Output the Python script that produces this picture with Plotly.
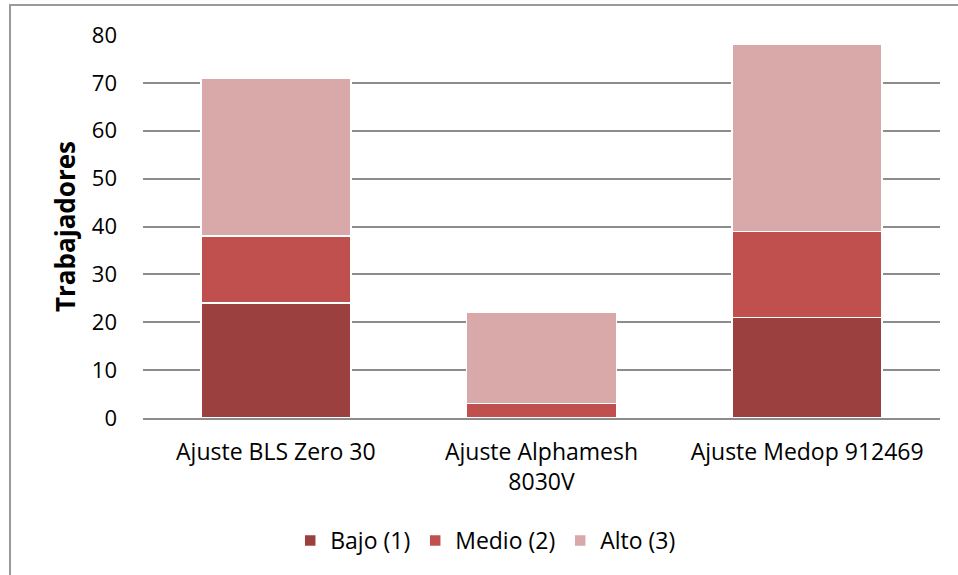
import plotly.graph_objects as go

categories = ["Ajuste BLS Zero 30", "Ajuste Alphamesh<br>8030V", "Ajuste Medop 912469"]
bajo = [24, 0, 21]
medio = [14, 3, 18]
alto = [33, 19, 39]
series_names = ["Bajo (1)", "Medio (2)", "Alto (3)"]
colors = ["#9C3F3F", "#C0504D", "#D9A9A9"]

fig = go.Figure()
for name, vals, col in zip(series_names, [bajo, medio, alto], colors):
    fig.add_trace(go.Bar(
        x=categories, y=vals, name=name,
        marker=dict(color=col, line=dict(color="white", width=1.5)),
        width=0.565,
    ))

fig.update_layout(
    barmode="stack",
    width=958, height=575,
    margin=dict(l=143, r=18, t=35, b=157),
    paper_bgcolor="white", plot_bgcolor="white",
    font=dict(family="Open Sans, sans-serif", size=22, color="black"),
    showlegend=True,
    legend=dict(orientation="h", x=0.43, xanchor="center", yref="container", y=0.06,
                yanchor="middle", font=dict(size=23), traceorder="normal",
                itemwidth=30),
    xaxis=dict(showline=True, linecolor="#8c8c8c", linewidth=2, ticks="",
               tickfont=dict(size=23), ticklabelstandoff=12),
    yaxis=dict(range=[0, 80], dtick=10, showgrid=True, gridcolor="#8c8c8c", gridwidth=1.5,
               zeroline=False, showline=False, ticklabelstandoff=25,
               title=dict(text="<b>Trabajadores</b>", font=dict(size=26), standoff=8),
               tickfont=dict(size=22)),
    shapes=[dict(type="rect", xref="paper", yref="paper",
                 x0=-133/797, x1=1.05, y0=-0.5, y1=1 + 30/383,
                 line=dict(color="#9a9a9a", width=2), fillcolor="rgba(0,0,0,0)", layer="below")],
)

fig.write_html("out.html", config={"displayModeBar": False},
               post_script="document.body.style.margin='0';")
